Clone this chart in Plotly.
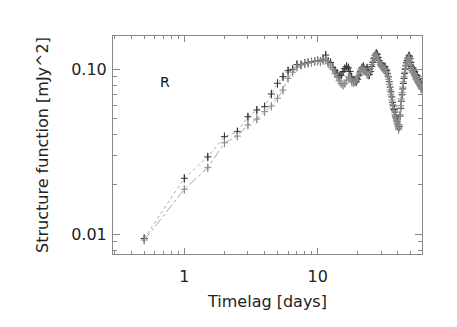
import plotly.graph_objects as go

# time lags in days, sampled every half day
lag = [0.5 * i for i in range(1, 121)]

# upper track (dotted)
sf_a = [0.0094, 0.0218, 0.0294, 0.0390, 0.0418, 0.0515, 0.0566, 0.0593, 0.0708, 0.0822,
        0.0902, 0.0980, 0.1000, 0.1070, 0.107, 0.109, 0.110, 0.111, 0.112, 0.113,
        0.112, 0.115, 0.122, 0.112, 0.110, 0.103, 0.098, 0.095, 0.090, 0.092,
        0.097, 0.101, 0.104, 0.102, 0.097, 0.090, 0.086, 0.085, 0.084, 0.087,
        0.092, 0.097, 0.102, 0.104, 0.100, 0.098, 0.102, 0.096, 0.093, 0.097,
        0.104, 0.110, 0.116, 0.121, 0.125, 0.123, 0.118, 0.113, 0.110, 0.106,
        0.104, 0.104, 0.102, 0.104, 0.100, 0.098, 0.094, 0.090, 0.084, 0.078,
        0.073, 0.068, 0.063, 0.060, 0.057, 0.055, 0.052, 0.050, 0.048, 0.046,
        0.044, 0.045, 0.052, 0.058, 0.064, 0.070, 0.076, 0.082, 0.088, 0.094,
        0.100, 0.105, 0.110, 0.113, 0.117, 0.118, 0.121, 0.119, 0.116, 0.110,
        0.104, 0.101, 0.098, 0.102, 0.098, 0.095, 0.097, 0.093, 0.090, 0.092,
        0.088, 0.091, 0.087, 0.085, 0.088, 0.084, 0.082, 0.083, 0.080, 0.079]

# lower track (dash-dot)
sf_b = [0.0092, 0.0187, 0.0253, 0.0358, 0.0393, 0.0459, 0.0499, 0.0553, 0.0598, 0.0667,
        0.0748, 0.0881, 0.0960, 0.1030, 0.106, 0.108, 0.109, 0.110, 0.112, 0.112,
        0.111, 0.113, 0.114, 0.108, 0.106, 0.100, 0.094, 0.090, 0.085, 0.082,
        0.080, 0.082, 0.086, 0.090, 0.088, 0.084, 0.083, 0.084, 0.086, 0.090,
        0.095, 0.099, 0.101, 0.098, 0.101, 0.097, 0.093, 0.092, 0.096, 0.101,
        0.107, 0.112, 0.118, 0.122, 0.121, 0.119, 0.114, 0.110, 0.107, 0.104,
        0.103, 0.101, 0.100, 0.101, 0.097, 0.095, 0.091, 0.087, 0.081, 0.075,
        0.070, 0.065, 0.061, 0.058, 0.056, 0.053, 0.051, 0.049, 0.047, 0.045,
        0.043, 0.046, 0.053, 0.060, 0.066, 0.072, 0.078, 0.084, 0.090, 0.096,
        0.101, 0.106, 0.109, 0.112, 0.115, 0.117, 0.118, 0.116, 0.112, 0.107,
        0.102, 0.098, 0.096, 0.099, 0.095, 0.092, 0.094, 0.090, 0.087, 0.089,
        0.085, 0.088, 0.084, 0.082, 0.085, 0.081, 0.079, 0.080, 0.077, 0.076]

x_ticks = [1, 10]
x_labels = ["1", "10"]
y_ticks = [0.01, 0.1]
y_labels = ["0.01", "0.10"]
x_minor = [0.3, 0.4, 0.5, 0.6, 0.7, 0.8, 0.9, 2, 3, 4, 5, 6, 7, 8, 9, 20, 30, 40, 50, 60]
y_minor = [0.008, 0.009, 0.02, 0.03, 0.04, 0.05, 0.06, 0.07, 0.08, 0.09]

font = "DejaVu Sans"
fig = go.Figure()
for ys, dash, mcol in [(sf_a, "dot", "#333"), (sf_b, "dashdot", "#888")]:
    fig.add_trace(go.Scatter(
        x=lag, y=ys, mode="lines+markers",
        line=dict(color="#aaa", width=1, dash=dash),
        marker=dict(symbol="cross-thin", size=5, line=dict(color=mcol, width=1)),
        error_y=dict(type="percent", value=6, width=0, thickness=1, color=mcol),
        showlegend=False))

fig.add_annotation(x=-0.145, y=-1.077, xref="x", yref="y", text="R", showarrow=False,
                   font=dict(family=font, size=14, color="#111"))

axis_common = dict(type="log", showgrid=False, zeroline=False, showline=True,
                   linecolor="#888", linewidth=1, mirror="allticks", automargin=False,
                   ticks="inside", tickcolor="#888", tickwidth=1,
                   tickfont=dict(family=font, size=16, color="#222"))

fig.update_xaxes(**axis_common, range=[-0.535, 1.783], tickvals=x_ticks, ticktext=x_labels,
                 ticklen=6, ticklabelstandoff=8,
                 minor=dict(ticks="inside", tickvals=x_minor, ticklen=3, tickcolor="#888"),
                 title=dict(text="Timelag [days]", font=dict(family=font, size=16, color="#222"),
                            standoff=10))
fig.update_yaxes(**axis_common, range=[-2.121, -0.798], tickvals=y_ticks, ticktext=y_labels,
                 ticklen=7, ticklabelstandoff=2,
                 minor=dict(ticks="inside", tickvals=y_minor, ticklen=4, tickcolor="#888"),
                 title=dict(text="Structure function [mJy^2]",
                            font=dict(family=font, size=16, color="#222"), standoff=18))

# the page adds an 8px body margin, so shift the plot box up/left to compensate
fig.update_layout(width=457, height=327, margin=dict(l=105, r=43, t=28, b=81),
                  plot_bgcolor="white", paper_bgcolor="white")

fig.write_html("out.html")
